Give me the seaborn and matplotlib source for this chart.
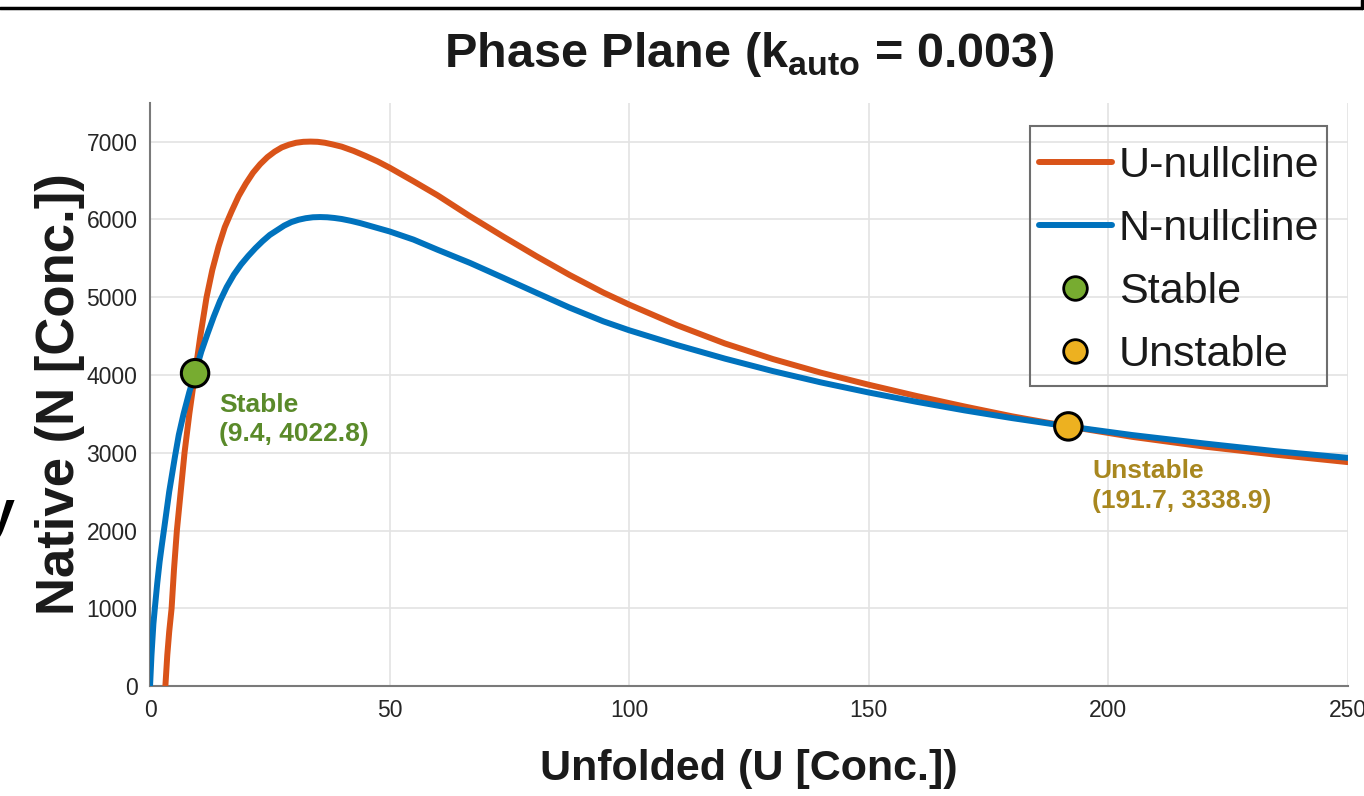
import numpy as np
import pandas as pd
import matplotlib
matplotlib.use("Agg")
import matplotlib.pyplot as plt
from matplotlib.lines import Line2D
from matplotlib.patches import Rectangle
import seaborn as sns

# U-nullcline samples (U, N)
u_null_U = [3.2, 3.6, 4.0, 4.5, 5.0, 5.6, 6.4, 7.2, 8.2, 9.4, 10.5, 11.8, 13.0, 14.3, 15.6,
            17.0, 18.5, 20.0, 21.5, 23.0, 24.5, 26.0, 27.5, 29.0, 30.5, 32.0, 33.5, 35.0,
            36.5, 38.0, 40.0, 42.5, 45.0, 47.5, 50.0, 55.0, 60.0, 66.8, 73.7, 80.7, 87.6,
            94.6, 100.0, 110.0, 120.0, 130.0, 140.0, 150.0, 160.0, 170.0, 180.0, 191.7,
            205.0, 220.0, 235.0, 250.0]
u_null_N = [0, 400, 700, 1000, 1500, 2000, 2500, 3000, 3500, 4022.8, 4500, 5000, 5350, 5650,
            5900, 6100, 6300, 6460, 6600, 6710, 6800, 6870, 6925, 6960, 6985, 6997, 7000,
            6997, 6985, 6965, 6935, 6880, 6815, 6745, 6665, 6490, 6310, 6040, 5780, 5525,
            5285, 5060, 4905, 4640, 4405, 4205, 4030, 3875, 3730, 3595, 3468, 3338.9,
            3205, 3080, 2975, 2880]

# N-nullcline samples (U, N)
n_null_U = [0.0, 0.3, 0.7, 1.0, 1.5, 2.0, 2.5, 3.0, 4.0, 5.2, 6.0, 7.0, 8.2, 9.4, 10.7, 12.0,
            13.3, 14.6, 16.0, 17.5, 19.0, 20.5, 22.0, 23.5, 25.0, 26.5, 28.0, 29.5, 31.0,
            32.5, 34.0, 35.5, 37.0, 38.5, 40.0, 42.0, 44.0, 46.0, 48.0, 50.0, 55.0, 60.0,
            66.8, 73.7, 80.7, 87.6, 94.6, 100.0, 110.0, 120.0, 130.0, 140.0, 150.0, 160.0,
            170.0, 180.0, 191.7, 205.0, 220.0, 235.0, 250.0]
n_null_N = [0, 400, 800, 1000, 1320, 1600, 1830, 2050, 2500, 2950, 3230, 3500, 3780, 4022.8,
            4300, 4530, 4750, 4950, 5130, 5290, 5420, 5530, 5630, 5720, 5800, 5860, 5920,
            5965, 5995, 6015, 6027, 6030, 6027, 6018, 6005, 5980, 5950, 5915, 5880, 5845,
            5740, 5610, 5440, 5250, 5055, 4865, 4690, 4575, 4385, 4210, 4050, 3905, 3775,
            3655, 3545, 3445, 3338.9, 3228, 3120, 3020, 2935]

# Fixed points
fp_names = ["Stable", "Unstable"]
fp_U = [9.4, 191.7]
fp_N = [4022.8, 3338.9]

x_ticks = [0, 50, 100, 150, 200, 250]
y_ticks = [0, 1000, 2000, 3000, 4000, 5000, 6000, 7000]

C_U = "#D95319"
C_N = "#0072BD"
C_STABLE = "#77AC30"
C_UNSTABLE = "#EDB120"
T_STABLE = "#5A8A2A"
T_UNSTABLE = "#A8871F"
INK = "#1A1A1A"

sns.set_style("white")
plt.rcParams["font.family"] = ["Liberation Sans", "DejaVu Sans"]
plt.rcParams["mathtext.fontset"] = "custom"
plt.rcParams["mathtext.rm"] = "Liberation Sans"
plt.rcParams["mathtext.bf"] = "Liberation Sans:bold"

curves = pd.concat([
    pd.DataFrame({"U": u_null_U, "N": u_null_N, "curve": "U-nullcline"}),
    pd.DataFrame({"U": n_null_U, "N": n_null_N, "curve": "N-nullcline"}),
], ignore_index=True)
points = pd.DataFrame({"U": fp_U, "N": fp_N, "kind": fp_names})

fig = plt.figure(figsize=(13.64, 7.96), dpi=100)
ax = fig.add_axes([0.110, 0.138, 0.878, 0.733])

sns.lineplot(data=curves, x="U", y="N", hue="curve",
             palette={"U-nullcline": C_U, "N-nullcline": C_N},
             estimator=None, sort=False, linewidth=4.3, ax=ax, legend=False, zorder=3)
sns.scatterplot(data=points, x="U", y="N", hue="kind",
                palette={"Stable": C_STABLE, "Unstable": C_UNSTABLE},
                s=390, edgecolor="black", linewidth=2.2, ax=ax, legend=False, zorder=5)

ax.set_xlim(0, 250)
ax.set_ylim(0, 7500)
ax.set_xticks(x_ticks)
ax.set_yticks(y_ticks)
ax.set_xticklabels([str(v) for v in x_ticks])
ax.set_yticklabels([str(v) for v in y_ticks])
ax.tick_params(axis="both", direction="in", length=9, width=1.3, colors="#262626",
               labelsize=16.5, pad=9)
ax.grid(True, color="#E3E3E3", linewidth=1.2)
ax.set_axisbelow(True)
for side in ("top", "right"):
    ax.spines[side].set_visible(False)
for side in ("left", "bottom"):
    ax.spines[side].set_color("#7A7A7A")
    ax.spines[side].set_linewidth(1.5)

ax.set_title(r"Phase Plane (k$_{\mathbf{auto}}$ = 0.003)", fontsize=35,
             fontweight="bold", color=INK, pad=26)
ax.set_xlabel("Unfolded (U [Conc.])", fontsize=31, fontweight="bold",
              color=INK, labelpad=20)
ax.set_ylabel("Native (N [Conc.])", fontsize=38, fontweight="bold",
              color=INK, labelpad=1)

# Fixed-point labels
ax.text(fp_U[0] + 5, fp_N[0] - 250, f"Stable\n({fp_U[0]}, {fp_N[0]})",
        color=T_STABLE, fontsize=19, fontweight="bold", va="top", ha="left",
        linespacing=1.3)
ax.text(fp_U[1] + 5, fp_N[1] - 420, f"Unstable\n({fp_U[1]}, {fp_N[1]})",
        color=T_UNSTABLE, fontsize=19, fontweight="bold", va="top", ha="left",
        linespacing=1.3)

# Legend: transparent box with a thin gray outline, entries placed inside it
ax.add_patch(Rectangle((0.7346, 0.5146), 0.983 - 0.7346, 0.9605 - 0.5146,
                       transform=ax.transAxes, fill=False, edgecolor="#6E6E6E",
                       linewidth=1.5, zorder=6, clip_on=False))
handles = [
    Line2D([], [], color=C_U, linewidth=4.3),
    Line2D([], [], color=C_N, linewidth=4.3),
    Line2D([], [], linestyle="none", marker="o", markersize=17,
           markerfacecolor=C_STABLE, markeredgecolor="black", markeredgewidth=2),
    Line2D([], [], linestyle="none", marker="o", markersize=17,
           markerfacecolor=C_UNSTABLE, markeredgecolor="black", markeredgewidth=2),
]
leg = ax.legend(handles, ["U-nullcline", "N-nullcline", "Stable", "Unstable"],
                loc="upper right", bbox_to_anchor=(0.9766, 0.9262), borderaxespad=0,
                fontsize=31, frameon=False, handlelength=1.7,
                handletextpad=0.16, labelspacing=0.54, borderpad=0)
for t in leg.get_texts():
    t.set_color(INK)

# Frame edge along the top of the page
fig.add_artist(Line2D([0, 0.9985], [0.9895, 0.9895], color="black", linewidth=2.5,
                      transform=fig.transFigure))
fig.add_artist(Line2D([0.9985, 0.9985], [0.9895, 1.0], color="black", linewidth=2.5,
                      transform=fig.transFigure))
fig.text(-0.012, 0.335, "y", fontsize=40, fontweight="bold", color="black")

fig.savefig("out.png", dpi=100)
